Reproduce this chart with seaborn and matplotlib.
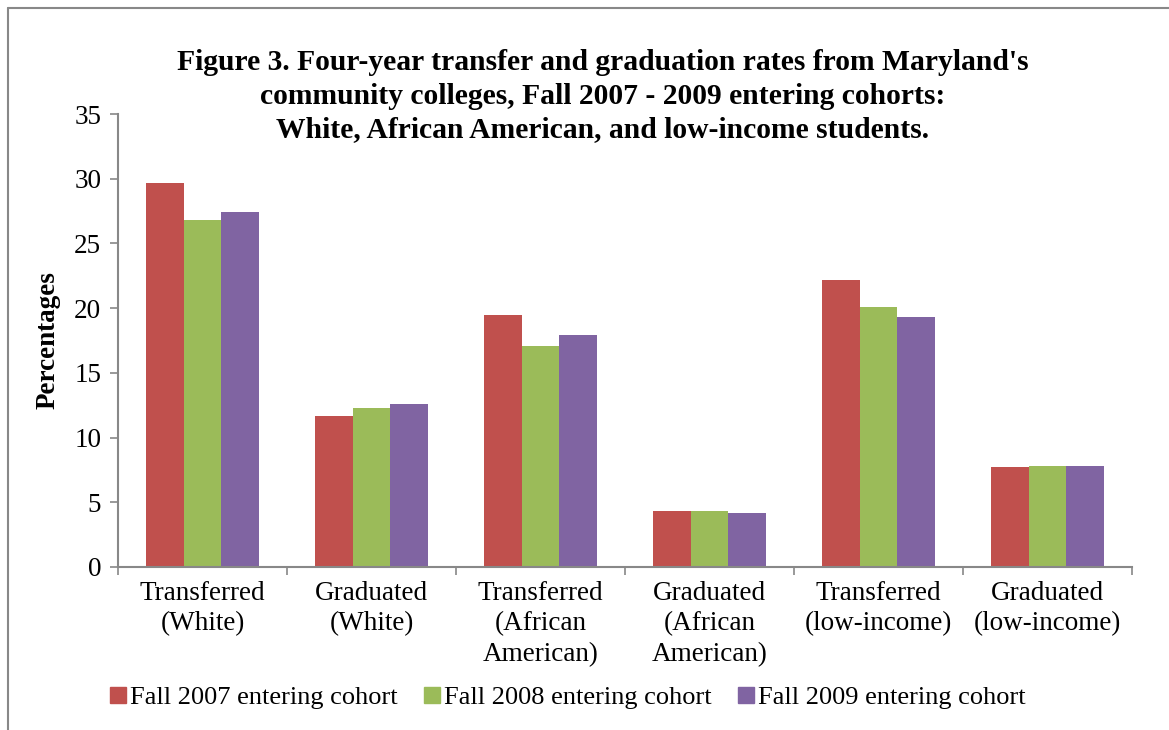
import numpy as np
import pandas as pd
import seaborn as sns
import matplotlib.pyplot as plt
from matplotlib.lines import Line2D

categories = ["Transferred\n(White)", "Graduated\n(White)", "Transferred\n(African\nAmerican)",
              "Graduated\n(African\nAmerican)", "Transferred\n(low-income)", "Graduated\n(low-income)"]
cohorts = ["Fall 2007 entering cohort", "Fall 2008 entering cohort", "Fall 2009 entering cohort"]
fall2007 = [29.7, 11.7, 19.5, 4.3, 22.2, 7.7]
fall2008 = [26.8, 12.3, 17.1, 4.3, 20.1, 7.8]
fall2009 = [27.4, 12.6, 17.9, 4.2, 19.3, 7.8]
colors = ["#C0504D", "#9BBB59", "#8064A2"]
yticks = [0, 5, 10, 15, 20, 25, 30, 35]

df = pd.DataFrame({
    "category": categories * 3,
    "cohort": [cohorts[0]] * 6 + [cohorts[1]] * 6 + [cohorts[2]] * 6,
    "value": fall2007 + fall2008 + fall2009,
})

sns.set_theme(style="white")
plt.rcParams['font.family'] = ['Liberation Serif', 'DejaVu Serif']
plt.rcParams['text.color'] = 'black'
plt.rcParams['axes.labelcolor'] = 'black'
plt.rcParams['xtick.color'] = 'black'
plt.rcParams['ytick.color'] = 'black'

W, H = 1169, 730
fig = plt.figure(figsize=(W / 100, H / 100), dpi=100)
ax = fig.add_axes([118 / W, 1 - 567 / H, (1132 - 118) / W, (567 - 114) / H])

sns.barplot(data=df, x="category", y="value", hue="cohort", order=categories,
            hue_order=cohorts, palette=colors, width=0.67, saturation=1,
            errorbar=None, ax=ax, legend=False, linewidth=0)

ax.set_ylim(0, 35)
ax.set_xlim(-0.5, 5.5)
ax.set_yticks(yticks)
ax.set_yticklabels([str(t) for t in yticks], fontsize=19.5)
ax.set_xticks(range(6))
ax.set_xticklabels(categories, fontsize=19.5, linespacing=1.3)
ax.set_xticks(np.arange(-0.5, 6.0, 1.0), minor=True)
ax.tick_params(axis="x", which="major", length=0, pad=10)
ax.tick_params(axis="x", which="minor", length=6, width=1.2, color="#888888", direction="out", bottom=True)
ax.tick_params(axis="y", length=6, width=1.2, color="#888888", direction="out", left=True, pad=6)
ax.set_xlabel("")
ax.set_ylabel("Percentages", fontsize=19.5, fontweight="bold", labelpad=10)
for s in ["top", "right"]:
    ax.spines[s].set_visible(False)
for s in ["left", "bottom"]:
    ax.spines[s].set_color("#888888")
    ax.spines[s].set_linewidth(1.5)

fig.text(603 / W, 1 - 96 / H,
         "Figure 3. Four-year transfer and graduation rates from Maryland's\n"
         "community colleges, Fall 2007 - 2009 entering cohorts:\n"
         "White, African American, and low-income students.",
         ha="center", va="center", fontsize=21.3, fontweight="bold", linespacing=1.3)

handles = [Line2D([0], [0], marker="s", linestyle="none", markersize=11,
                  markerfacecolor=c, markeredgecolor=c) for c in colors]
fig.legend(handles, cohorts, loc="center", bbox_to_anchor=(568 / W, 1 - 697 / H), ncol=3,
           frameon=False, fontsize=19, handlelength=0.6, handletextpad=0.15, columnspacing=1.0)

# border (left and top)
fig.add_artist(Line2D([8 / W, 8 / W], [0, 1 - 8 / H], transform=fig.transFigure, color="#888888", lw=1.5))
fig.add_artist(Line2D([8 / W, 1], [1 - 8 / H, 1 - 8 / H], transform=fig.transFigure, color="#888888", lw=1.5))

fig.savefig("out.png", dpi=100)
